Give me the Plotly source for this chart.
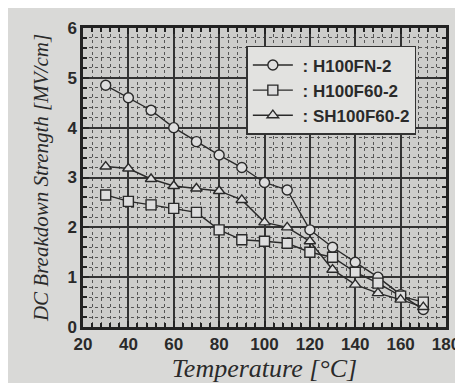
import plotly.graph_objects as go

temps = [30, 40, 50, 60, 70, 80, 90, 100, 110, 120, 130, 140, 150, 160, 170]
h100fn2 = [4.85, 4.6, 4.35, 4.0, 3.72, 3.45, 3.2, 2.9, 2.75, 1.95, 1.6, 1.3, 1.0, 0.65, 0.35]
h100f602 = [2.65, 2.52, 2.45, 2.38, 2.3, 1.95, 1.75, 1.72, 1.68, 1.5, 1.4, 1.1, 0.88, 0.62, 0.5]
sh100f602 = [3.22, 3.18, 2.97, 2.83, 2.78, 2.73, 2.55, 2.1, 2.0, 1.72, 1.15, 0.85, 0.68, 0.55, 0.4]

names = [" : H100FN-2", " : H100F60-2", " : SH100F60-2"]
symbols = ["circle", "square", "triangle-up"]
series = [h100fn2, h100f602, sh100f602]

fig = go.Figure()
for name, sym, vals in zip(names, symbols, series):
    fig.add_trace(go.Scatter(
        x=temps, y=vals, name=name, mode="lines+markers",
        line=dict(color="#2a2a2a", width=1.4),
        marker=dict(symbol=sym, size=10, color="#dedede",
                    line=dict(color="#2a2a2a", width=1.4)),
    ))

fig.update_layout(
    width=463, height=383,
    margin=dict(l=75, r=24, t=11, b=64),
    paper_bgcolor="#d9d9d7",
    plot_bgcolor="#cdcdcb",
    showlegend=True,
    legend=dict(x=0.45, y=0.94, xanchor="left", yanchor="top",
                bgcolor="#e2e2e0", bordercolor="#333", borderwidth=1.5,
                font=dict(family="Liberation Sans", size=17, color="#2a2a2a", weight="bold"),
                tracegroupgap=0, itemwidth=40),
)
fig.update_xaxes(
    range=[20, 180], tick0=20, dtick=20,
    showline=True, linecolor="#222", linewidth=2.5, mirror="allticks",
    ticks="inside", ticklen=6, tickwidth=2, tickcolor="#222",
    showgrid=True, gridcolor="#333", gridwidth=1.5,
    minor=dict(dtick=4, showgrid=True, gridcolor="#555", griddash="dot", gridwidth=1,
               ticks="inside", ticklen=4, tickcolor="#222", tickwidth=1.5),
    tickfont=dict(family="Liberation Sans", size=17, color="#2a2a2a", weight="bold"),
    title=dict(text="Temperature [°C]", standoff=2,
               font=dict(family="Liberation Serif", size=26, color="#2a2a2a", style="italic")),
    zeroline=False,
)
fig.update_yaxes(
    range=[0, 6], dtick=1,
    showline=True, linecolor="#222", linewidth=2.5, mirror="allticks",
    ticks="inside", ticklen=6, tickwidth=2, tickcolor="#222",
    showgrid=True, gridcolor="#333", gridwidth=1.5,
    minor=dict(dtick=0.2, showgrid=True, gridcolor="#555", griddash="dot", gridwidth=1,
               ticks="inside", ticklen=4, tickcolor="#222", tickwidth=1.5),
    tickfont=dict(family="Liberation Sans", size=17, color="#2a2a2a", weight="bold"),
    title=dict(text="DC Breakdown Strength [MV/cm]", standoff=14,
               font=dict(family="Liberation Serif", size=21, color="#2a2a2a", style="italic")),
    zeroline=False,
)

fig.write_html("out.html")
